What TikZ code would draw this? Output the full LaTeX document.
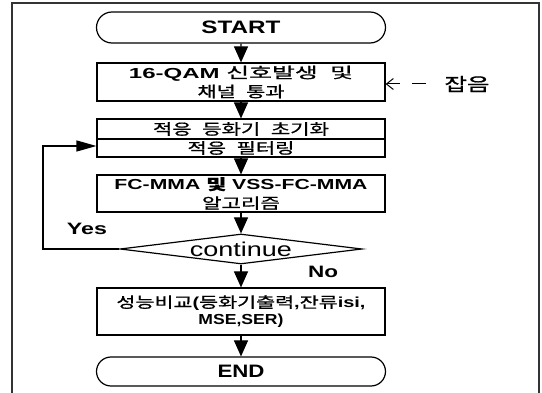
\documentclass[tikz,border=0pt]{standalone}
\usepackage{fontspec}
\usepackage{graphicx}
\setmainfont{Liberation Sans}
\newfontfamily\kr{Noto Sans CJK KR}[FakeBold=0.8]
\usetikzlibrary{arrows.meta,shapes.geometric,shapes.misc}

% a line of lettering stretched to a given width, natural height kept
\newcommand{\wl}[2]{\resizebox{#1pt}{\height}{#2}}
% Hangul at a matching size
\newcommand{\ko}[1]{{\kr\fontsize{15}{19}\selectfont #1}}
\newcommand{\ksp}{\hspace{0.5em}}

\tikzset{
  box/.style={draw, line width=1.2pt, minimum width=288pt, inner sep=0pt, align=center,
              font=\fontsize{14.5}{19}\selectfont},
  term/.style={draw, line width=1.2pt, rounded rectangle, minimum width=289pt, inner sep=0pt,
               font=\fontsize{18}{20}\selectfont\bfseries},
  decision/.style={draw, line width=1.2pt, diamond, aspect=8, minimum width=242pt,
                   minimum height=30pt, inner sep=0pt, font=\fontsize{20}{22}\selectfont},
  flow/.style={line width=1.2pt, -{Triangle[length=16pt,width=14pt]}},
  flowh/.style={line width=1.2pt, -{Triangle[length=20pt,width=11pt]}},
  lbl/.style={font=\fontsize{16.5}{19}\selectfont\bfseries, inner sep=0pt},
}

\begin{document}
\begin{tikzpicture}[x=1pt,y=-1pt]
  \useasboundingbox (0,0) rectangle (542,393);
  % outer frame (open at the bottom)
  \draw[line width=1.2pt, black!80] (12,393) -- (12,3) -- (539,3) -- (539,393);

  \node[term, minimum height=31pt] (start) at (241,27.5) {\wl{79}{START}};
  \node[box, minimum height=38pt] (b1) at (241,82)
    {\wl{224}{\textbf{16-QAM} \ko{신호발생\ksp 및}}\\\wl{87}{\ko{채널\ksp 통과}}};
  \node[box, minimum height=20pt] (b2a) at (241,129) {\wl{176}{\ko{적응\ksp 등화기\ksp 초기화}}};
  \node[box, minimum height=18pt] (b2b) at (241,148) {\wl{107}{\ko{적응\ksp 필터링}}};
  \node[box, minimum height=37pt] (b3) at (241,193.5)
    {\wl{253}{\bfseries FC-MMA \ko{및} VSS-FC-MMA}\\\wl{78}{\ko{알고리즘}}};
  \node[decision] (dec) at (241,249) {\wl{102}{continue}};
  \node[box, minimum height=47pt, font=\fontsize{14.5}{17}\selectfont] (b4) at (241,311.5)
    {\wl{249}{\ko{성능비교}\textbf{(}\ko{등화기출력}\textbf{,}\ko{잔류}\textbf{isi,}}\\\wl{85}{\textbf{MSE,SER)}}};
  \node[term, minimum height=29pt] (end) at (241,371.5) {\wl{47}{END}};

  % noise input, dashed, open head at the box
  \node[inner sep=0pt, font=\kr\fontsize{18}{20}\selectfont] (noise) at (467,84) {\wl{45}{잡음}};
  \coordinate (nz) at (426,84);
  \draw[line width=1pt, dash pattern=on 13pt off 12pt on 14pt off 20pt,
        {Straight Barb[length=7pt,width=11pt]}-]
    (b1.east |- nz) -- (nz);

  % main flow
  \draw[flow] (start) -- (b1);
  \draw[flow] (b1) -- (b2a);
  \draw[flow] (b2b) -- (b3);
  \draw[flow] (b3) -- (dec);
  \draw[flow] (dec) -- (b4);
  \draw[flow] (b4) -- (end);

  % loop back
  \coordinate (fb) at (43,146);
  \draw[flowh] (dec.west) -| (fb) -- (b2b.west |- fb);

  \node[lbl] (yes) at (87,229) {\wl{40}{Yes}};
  \node[lbl] (no) at (323,272) {\wl{30}{No}};
\end{tikzpicture}
\end{document}
